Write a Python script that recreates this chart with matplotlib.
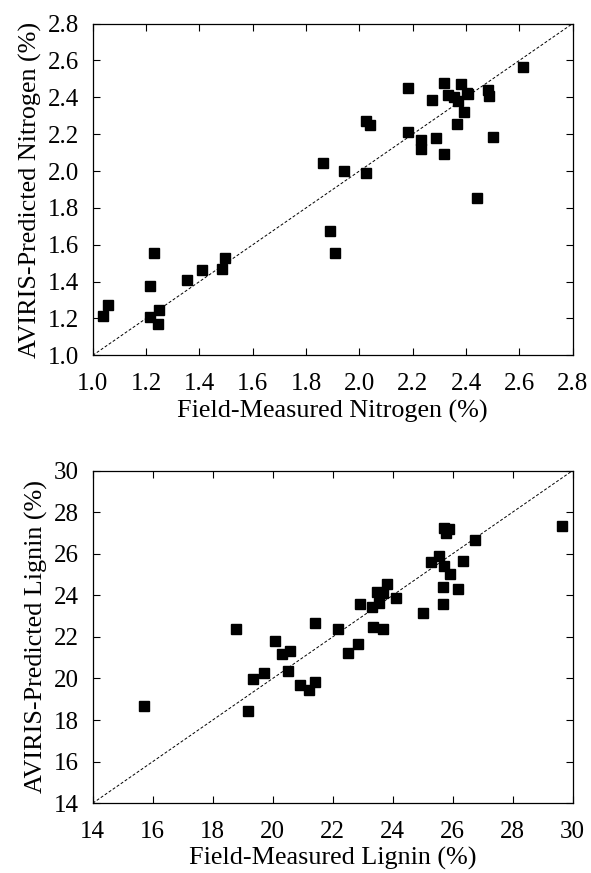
import matplotlib
matplotlib.use("Agg")
import matplotlib.pyplot as plt

plt.rcParams['font.family'] = ['Liberation Serif', 'DejaVu Serif']

# nitrogen (%)
n_field = [1.040, 1.056, 1.213, 1.229, 1.215, 1.250, 1.245, 1.355, 1.409, 1.486,
           1.496, 1.862, 1.941, 1.891, 1.910, 2.025, 2.023, 2.041, 2.181, 2.181,
           2.231, 2.232, 2.273, 2.289, 2.317, 2.318, 2.333, 2.354, 2.368, 2.380,
           2.367, 2.392, 2.408, 2.405, 2.442, 2.482, 2.487, 2.503, 2.612]
n_pred = [1.212, 1.273, 1.374, 1.553, 1.208, 1.246, 1.168, 1.407, 1.462, 1.466,
          1.527, 2.044, 1.999, 1.675, 1.556, 1.991, 2.273, 2.251, 2.450, 2.210,
          2.168, 2.118, 2.387, 2.177, 2.092, 2.479, 2.412, 2.403, 2.381, 2.471,
          2.255, 2.318, 2.417, 2.425, 1.854, 2.441, 2.408, 2.186, 2.562]

# lignin (%)
l_field = [15.70, 18.77, 19.19, 19.33, 19.70, 20.09, 20.32, 20.59, 20.51, 20.90,
           21.20, 21.40, 21.41, 22.16, 22.52, 22.83, 22.91, 23.32, 23.34, 23.53,
           23.47, 23.67, 23.68, 23.81, 24.11, 25.01, 25.27, 25.53, 25.69, 25.69,
           25.72, 25.71, 25.87, 25.78, 25.90, 26.17, 26.33, 26.74, 29.64]
l_pred = [18.66, 22.40, 18.45, 19.99, 20.26, 21.82, 21.16, 21.34, 20.34, 19.67,
          19.45, 19.82, 22.67, 22.37, 21.23, 21.66, 23.58, 23.46, 22.46, 23.61,
          24.15, 24.10, 22.38, 24.55, 23.89, 23.17, 25.62, 25.88, 24.42, 23.58,
          25.41, 27.24, 27.18, 27.00, 25.01, 24.29, 25.64, 26.66, 27.32]

n_ticks = [1.0, 1.2, 1.4, 1.6, 1.8, 2.0, 2.2, 2.4, 2.6, 2.8]
l_ticks = [14, 16, 18, 20, 22, 24, 26, 28, 30]

fig = plt.figure(figsize=(5.91, 8.73), dpi=100)
ax1 = fig.add_axes([0.157, 0.593, 0.812, 0.380])
ax2 = fig.add_axes([0.157, 0.080, 0.812, 0.381])


def style(ax, lo, hi, ticks, fmt, xlabel, ylabel):
    ax.plot([lo, hi], [lo, hi], ls=(0, (3, 2)), color='black', lw=0.7)
    ax.set_xlim(lo, hi)
    ax.set_ylim(lo, hi)
    ax.set_xticks(ticks)
    ax.set_yticks(ticks)
    ax.set_xticklabels([fmt.format(t) for t in ticks])
    ax.set_yticklabels([fmt.format(t) for t in ticks])
    ax.tick_params(direction='in', top=True, right=True, length=5, width=0.8,
                   labelsize=18)
    ax.tick_params(axis='x', pad=13)
    ax.tick_params(axis='y', pad=10)
    for s in ax.spines.values():
        s.set_linewidth(0.9)
    ax.set_xlabel(xlabel, fontsize=18.8, labelpad=3)
    ax.set_ylabel(ylabel, fontsize=18.8, labelpad=4)


ax1.plot(n_field, n_pred, 's', color='black', ms=7, zorder=3)
style(ax1, 1.0, 2.8, n_ticks, '{:.1f}', 'Field-Measured Nitrogen (%)',
      'AVIRIS-Predicted Nitrogen (%)')

ax2.plot(l_field, l_pred, 's', color='black', ms=7, zorder=3)
style(ax2, 14, 30, l_ticks, '{:d}', 'Field-Measured Lignin (%)',
      'AVIRIS-Predicted Lignin (%)')

fig.savefig("out.png", dpi=100)
